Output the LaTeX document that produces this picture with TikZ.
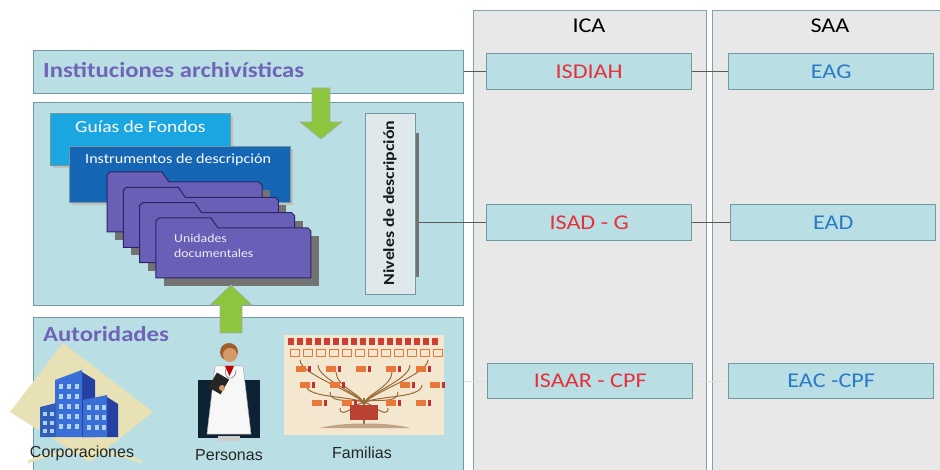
\documentclass[tikz,border=0pt]{standalone}
\usepackage{fontspec}
\setmainfont{Carlito}[FakeStretch=1.15]
\newfontfamily\arialf{Liberation Sans}
\definecolor{boxfill}{HTML}{B9DFE4}
\definecolor{boxline}{HTML}{6F9A9F}
\definecolor{colfill}{HTML}{E8E8E8}
\definecolor{colline}{HTML}{7FA3A8}
\definecolor{purp}{HTML}{7064B8}
\definecolor{redt}{HTML}{E8303C}
\definecolor{bluet}{HTML}{2A7AC8}
\definecolor{arrgreen}{HTML}{8CC63F}
\definecolor{folderfill}{HTML}{6A5FB6}
\definecolor{folderline}{HTML}{2B2466}
\definecolor{guia}{HTML}{1AA6E0}
\definecolor{instr}{HTML}{1666B6}
\definecolor{tanbg}{HTML}{E7E1B5}
\definecolor{bldfront}{HTML}{3A6FD8}
\definecolor{bldside}{HTML}{2440A0}
\definecolor{bldwin}{HTML}{B0D0F4}
\definecolor{navy}{HTML}{0D2234}
\definecolor{skin}{HTML}{D69A6A}
\definecolor{hair}{HTML}{A0602A}
\definecolor{treebg}{HTML}{F3E8CF}
\definecolor{treebr}{HTML}{9A6A3A}
\definecolor{treeor}{HTML}{E8783A}
\definecolor{treered}{HTML}{C83030}
\definecolor{nivfill}{HTML}{DFE9EB}
\begin{document}
\begin{tikzpicture}[x=1pt,y=-1pt,
  panel/.style={draw=boxline, fill=boxfill, line width=1.2pt, anchor=north west, inner sep=0pt},
  column/.style={draw=colline, fill=colfill, line width=1.4pt, anchor=north west, inner sep=0pt},
  stdbox/.style={draw=boxline, fill=boxfill, line width=1.4pt, minimum width=205pt, minimum height=36pt, anchor=north west, inner sep=0pt, font=\fontsize{21}{24}\selectfont},
  head/.style={font=\fontsize{21}{24}\selectfont, text=black},
  title/.style={font=\fontsize{21.5}{24}\selectfont\bfseries, text=purp, anchor=west, inner sep=0pt},
  link/.style={draw=black!65, line width=0.8pt},
  faint/.style={draw=black!12, line width=0.6pt},
  greenarrow/.style={fill=arrgreen, draw=gray!65, line width=0.7pt},
  caption/.style={font=\arialf\fontsize{16}{18}\selectfont, text=black!85, inner sep=0pt},
  folder/.style={fill=folderfill, draw=folderline, line width=1pt},
  fshadow/.style={fill=black!55}
]
\useasboundingbox (0,0) rectangle (940,470);
\fill[white] (0,0) rectangle (940,470);

% columns
\node[column, minimum width=233pt, minimum height=470pt] (ica) at (473,10) {};
\node[column, minimum width=235pt, minimum height=470pt] (saa) at (712,10) {};
\node[head] (icat) at (589,26) {ICA};
\node[head] (saat) at (830,26) {SAA};

% left panels
\node[panel, minimum width=430pt, minimum height=43pt] (inst) at (33,50) {};
\node[title] (instt) at (43,70) {Instituciones archivísticas};
\node[panel, minimum width=430pt, minimum height=203pt] (mid) at (33,102) {};
\node[panel, minimum width=430pt, minimum height=160pt] (aut) at (33,317) {};
\node[title] (autt) at (43,334) {Autoridades};

% standard boxes
\node[stdbox, text=redt] (isdiah) at (486,53) {ISDIAH};
\node[stdbox, text=bluet] (eag) at (728,53) {EAG};
\node[stdbox, text=redt] (isadg) at (486,204) {ISAD - G};
\node[stdbox, text=bluet] (ead) at (730,204) {EAD};
\node[stdbox, text=redt, minimum height=35pt] (isaar) at (487,363) {ISAAR - CPF};
\node[stdbox, text=bluet, minimum height=35pt] (eac) at (728,363) {EAC -CPF};

% Guias and Instrumentos
\fill[black!25] (53,116) rectangle (233,168);
\node[fill=guia, draw=boxline, line width=0.8pt, minimum width=180pt, minimum height=52pt, anchor=north west, inner sep=0pt] (guias) at (50,113) {};
\node[anchor=west, text=white, font=\fontsize{17}{20}\selectfont, inner sep=0pt] (guiast) at (75,127) {Guías de Fondos};
\fill[black!25] (72,149) rectangle (293,205);
\node[fill=instr, draw=boxline, line width=0.8pt, minimum width=221pt, minimum height=56pt, anchor=north west, inner sep=0pt] (instr) at (69,146) {};
\node[anchor=west, text=white, font=\fontsize{14}{16}\selectfont, inner sep=0pt] (instrt) at (85,160) {Instrumentos de descripción};

% folders
\foreach \i in {0,1,2,3}{
  \begin{scope}[shift={({107+16.3*\i},{172+15.3*\i})}]
    \fill[fshadow] (8,18) -- (163,18) -- (163,68) -- (8,68) -- cycle;
    \path[folder] (0,60) -- (0,3) -- (3,0) -- (55,0) -- (62,10) -- (152,10) -- (155,13) -- (155,60) -- cycle;
  \end{scope}
}
\node[anchor=north west, align=left, text=white!88!folderfill, font=\fontsize{12}{15}\selectfont, inner sep=0pt] (unid) at (174,234) {Unidades\\documentales};

% Niveles de descripcion
\node[fill=black!55, minimum width=4pt, minimum height=144pt, anchor=north west, inner sep=0pt] (nivsh) at (415,133) {};
\node[draw=boxline, fill=nivfill, line width=1.2pt, minimum width=50pt, minimum height=181pt, anchor=north west, inner sep=0pt] (niv) at (365,113) {};
\node[rotate=90, font=\fontsize{15.5}{18}\selectfont\bfseries, text=black!90, inner sep=0pt] (nivt) at (390,203) {Niveles de descripción};

% connectors
\draw[link] (inst.east |- isdiah.west) -- (isdiah.west);
\draw[link] (isdiah.east) -- (eag.west);
\draw[link] (isadg.west -| nivsh.east) -- (isadg.west);
\draw[link] (isadg.east) -- (ead.west);
\coordinate (rightend) at (940,381);
\draw[faint] (aut.east |- isaar.west) -- (isaar.west);
\draw[faint] (isaar.east) -- (eac.west);
\draw[faint] (eac.east) -- (rightend);

% green arrows
\path[greenarrow] (312,88) -- (330,88) -- (330,122) -- (342,122) -- (321,139) -- (300,122) -- (312,122) -- cycle;
\path[greenarrow] (220,333) -- (242,333) -- (242,305) -- (252,305) -- (231,285) -- (210,305) -- (220,305) -- cycle;

% Corporaciones picture
\fill[tanbg] (63,343) -- (153,412) -- (90,462) -- (10,412) -- cycle;
\draw[tanbg, line width=3pt] (28,462) .. controls (60,448) and (110,448) .. (142,462);
\fill[bldside] (82,372) -- (95,380) -- (95,437) -- (82,437) -- cycle;
\fill[bldfront] (55,380) -- (82,370) -- (82,437) -- (55,437) -- cycle;
\fill[bldfront!85!black] (40,407) -- (56,403) -- (56,437) -- (40,437) -- cycle;
\fill[bldside] (107,397) -- (118,404) -- (118,437) -- (107,437) -- cycle;
\fill[bldfront] (83,400) -- (107,395) -- (107,437) -- (83,437) -- cycle;
\foreach \x in {59,67,75}{\foreach \y in {384,394,404,414,424}{\fill[bldwin] (\x,\y) rectangle ++(4,5);}}
\foreach \x in {43,50}{\foreach \y in {412,421,429}{\fill[bldwin] (\x,\y) rectangle ++(3.5,4);}}
\foreach \x in {87,95,102}{\foreach \y in {405,415,425}{\fill[bldwin] (\x,\y) rectangle ++(3.5,5);}}
\node[caption] (corp) at (82,453) {Corporaciones};

% Personas picture
\fill[navy] (198,380) rectangle (260,438);
\fill[hair] (229,352) circle (9);
\fill[skin] (230,355) circle (7);
\fill[black!20] (218,436) rectangle (240,441);
\path[fill=white!94!gray, draw=gray!70, line width=0.5pt] (215,366) -- (243,366) -- (251,434) -- (207,434) -- cycle;
\fill[red!75!black] (225,366) -- (234,366) -- (229.5,376) -- cycle;
\draw[gray, line width=0.6pt] (226,368) .. controls (222,380) and (236,382) .. (236,370);
\fill[black!85, rotate around={-30:(219,383)}] (212,375) rectangle (226,392);
\fill[skin] (222,388) circle (3);
\node[caption] (pers) at (229,455) {Personas};

% Familias picture
\fill[treebg] (284,335) rectangle (444,435);
\foreach \x in {288,297,...,440}{\fill[treered!80!treeor] (\x,338) rectangle ++(6,7);}
\foreach \x in {290,303,...,436}{\draw[treeor, line width=0.8pt] (\x,349) rectangle ++(9,7);}
\draw[treebr, line width=2pt] (364,425) -- (364,398);
\foreach \ex/\ey in {300/360,318/365,336/372,392/372,410/365,428/360,306/385,330/392,398/392,422/385,340/408,388/408}{
  \draw[treebr, line width=1pt] (364,405) .. controls (364,395) and (\ex,{\ey+15}) .. (\ex,\ey);
}
\foreach \x/\y in {296/366,326/366,356/366,386/366,416/366,300/382,330/382,400/382,430/382,312/400,342/400,386/400,416/400}{
  \fill[treeor] (\x,\y) rectangle ++(10,6);
  \fill[treered] (\x+12,\y) rectangle ++(3,6);
}
\fill[treered!70!treebr] (350,405) rectangle (378,420);
\fill[treebr!60] (320,428) .. controls (340,422) and (390,422) .. (410,428) -- cycle;
\node[caption] (fam) at (362,453) {Familias};

\end{tikzpicture}
\end{document}
